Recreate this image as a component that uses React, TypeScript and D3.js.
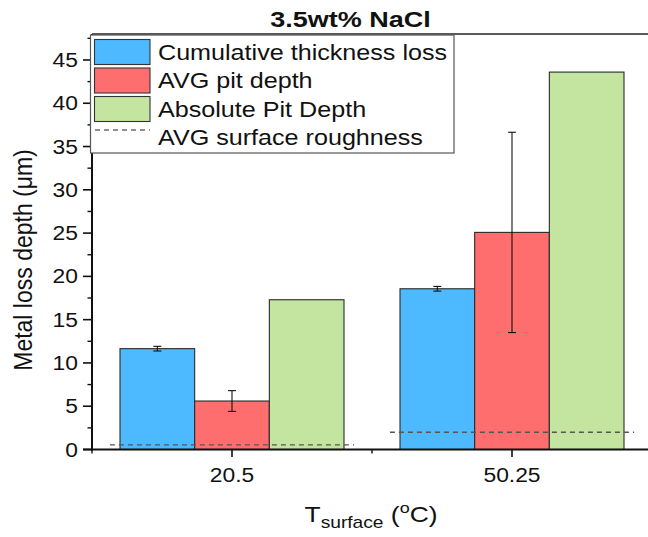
import React from "react";
import * as d3 from "d3";

const categories = ["20.5", "50.25"];
const seriesNames = ["Cumulative thickness loss", "AVG pit depth", "Absolute Pit Depth"];
const cumulativeLoss = [11.65, 18.57];
const cumulativeLossErr = [0.27, 0.27];
const avgPitDepth = [5.6, 25.08];
const avgPitDepthErr = [1.2, 11.57];
const absolutePitDepth = [17.3, 43.6];
const avgRoughness = [0.54, 2.0];
const roughnessName = "AVG surface roughness";
const yTicks = [0, 5, 10, 15, 20, 25, 30, 35, 40, 45];
const yMinorTicks = [2.5, 7.5, 12.5, 17.5, 22.5, 27.5, 32.5, 37.5, 42.5, 47.5];
const colors = ["#4db9ff", "#fe6e6e", "#c4e59f"];

const W = 648;
const H = 537;
const left = 92;
const right = 652;
const top = 34;
const bottom = 449.5;
const FONT = "'Liberation Sans', Arial, Helvetica, sans-serif";
const SX = 1.17;

export default function App() {
  const x = d3.scaleBand<string>().domain(categories).range([left, right]).padding(0);
  const bw = x.bandwidth();
  const inner = d3
    .scaleBand<number>()
    .domain([0, 1, 2])
    .range([bw * 0.1, bw * 0.9])
    .padding(0);
  const y = d3.scaleLinear().domain([0, 48]).range([bottom, top]);

  const values = [cumulativeLoss, avgPitDepth, absolutePitDepth];
  const errs = [cumulativeLossErr, avgPitDepthErr, null];

  const bars: React.ReactNode[] = [];
  const errBars: React.ReactNode[] = [];
  categories.forEach((c, ci) => {
    values.forEach((vals, si) => {
      const x0 = (x(c) as number) + (inner(si) as number);
      const v = vals[ci];
      bars.push(
        <rect
          key={`b${ci}-${si}`}
          x={x0}
          y={y(v)}
          width={inner.bandwidth()}
          height={y(0) - y(v)}
          fill={colors[si]}
          stroke="#2a2a2a"
          strokeWidth={1.1}
        />
      );
      const e = errs[si];
      if (e) {
        const cx = x0 + inner.bandwidth() / 2;
        const hi = y(v + e[ci]);
        const lo = y(v - e[ci]);
        errBars.push(
          <g key={`e${ci}-${si}`} stroke="#111" strokeWidth={1.1}>
            <line x1={cx} x2={cx} y1={hi} y2={lo} />
            <line x1={cx - 4} x2={cx + 4} y1={hi} y2={hi} />
            <line x1={cx - 4} x2={cx + 4} y1={lo} y2={lo} />
          </g>
        );
      }
    });
  });

  const rough = categories.map((c, ci) => {
    const cx = (x(c) as number) + bw / 2;
    const half = bw * 0.436;
    return (
      <line
        key={`r${ci}`}
        x1={cx - half}
        x2={cx + half}
        y1={y(avgRoughness[ci])}
        y2={y(avgRoughness[ci])}
        stroke="#555"
        strokeWidth={1.4}
        strokeDasharray="5,4"
      />
    );
  });

  const legendX = 90.5;
  const legendY = 35;
  const rowH = 28.5;

  return (
    <svg
      width={W}
      height={H}
      style={{ position: "absolute", left: 0, top: 0, background: "#fff" }}
      fontFamily={FONT}
    >
      <rect x={0} y={0} width={W} height={H} fill="#fff" />
      {/* title */}
      <text
        transform={`translate(350.5,26.5) scale(1.2,1)`}
        textAnchor="middle"
        fontSize={22.5}
        fontWeight="bold"
        fill="#111"
      >
        3.5wt% NaCl
      </text>

      {bars}
      {rough}
      {errBars}

      {/* top frame line */}
      <line x1={left} x2={right} y1={top} y2={top} stroke="#222" strokeWidth={1.6} />

      {/* y axis */}
      <line x1={left} x2={left} y1={top} y2={bottom + 1} stroke="#111" strokeWidth={2} />
      {yTicks.map((t) => (
        <g key={`yt${t}`}>
          <line x1={left - 9} x2={left} y1={y(t)} y2={y(t)} stroke="#111" strokeWidth={1.6} />
          <text
            transform={`translate(78,${y(t) + 7}) scale(${SX},1)`}
            textAnchor="end"
            fontSize={19.5}
            fill="#111"
          >
            {t}
          </text>
        </g>
      ))}
      {yMinorTicks.map((t) => (
        <line key={`ym${t}`} x1={left - 4.5} x2={left} y1={y(t)} y2={y(t)} stroke="#111" strokeWidth={1.4} />
      ))}

      {/* x axis */}
      <line x1={left - 9} x2={right} y1={bottom} y2={bottom} stroke="#111" strokeWidth={2.2} />
      {categories.map((c) => {
        const cx = (x(c) as number) + bw / 2;
        return (
          <g key={`xt${c}`}>
            <line x1={cx} x2={cx} y1={bottom} y2={bottom + 7.5} stroke="#111" strokeWidth={1.6} />
            <text
              transform={`translate(${cx},482) scale(${SX},1)`}
              textAnchor="middle"
              fontSize={19.5}
              fill="#111"
            >
              {c}
            </text>
          </g>
        );
      })}
      {[left, left + bw, left + 2 * bw].map((m, i) => (
        <line key={`xm${i}`} x1={m} x2={m} y1={bottom} y2={bottom + 4} stroke="#111" strokeWidth={1.4} />
      ))}

      {/* axis titles */}
      <text
        transform={`translate(31.5,260) scale(1.13,1) rotate(-90)`}
        textAnchor="middle"
        fontSize={23}
        fill="#111"
      >
        Metal loss depth (μm)
      </text>
      <text
        transform={`translate(371,521.7) scale(1.2,1)`}
        textAnchor="middle"
        fontSize={22}
        fill="#111"
      >
        <tspan>T</tspan>
        <tspan fontSize={16} dy={6.5}>surface</tspan>
        <tspan dy={-6.5}> (</tspan>
        <tspan fontSize={15} dy={-8.4}>o</tspan>
        <tspan dy={8.4}>C)</tspan>
      </text>

      {/* legend */}
      <rect x={legendX} y={legendY} width={363.5} height={118} fill="#fff" stroke="#555" strokeWidth={1.2} />
      {seriesNames.map((n, i) => (
        <g key={`lg${i}`}>
          <rect
            x={94.5}
            y={39.5 + i * rowH}
            width={55.5}
            height={25}
            fill={colors[i]}
            stroke="#333"
            strokeWidth={1.1}
          />
          <text
            transform={`translate(158,${59.5 + i * rowH}) scale(${SX},1)`}
            fontSize={21.5}
            fill="#111"
          >
            {n}
          </text>
        </g>
      ))}
      <line x1={95} x2={150} y1={130} y2={130} stroke="#222" strokeWidth={1} strokeDasharray="5,4" />
      <text transform={`translate(158,${59.5 + 3 * rowH}) scale(${SX},1)`} fontSize={21.5} fill="#111">
        {roughnessName}
      </text>
    </svg>
  );
}
